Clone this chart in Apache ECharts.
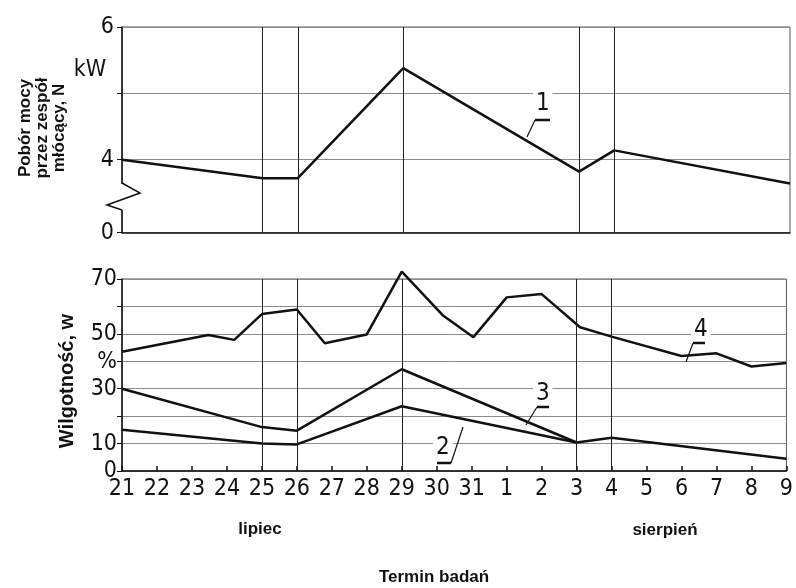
<!DOCTYPE html>
<html>
<head>
<meta charset="utf-8">
<script src="https://cdn.jsdelivr.net/npm/echarts@6.0.0/dist/echarts.min.js"></script>
<style>
  html, body { margin: 0; padding: 0; background: #fff; }
  #main { width: 796px; height: 588px; }
</style>
</head>
<body>
<div id="main"></div>
<script>
// dni badań: 21-31 lipca, 1-9 sierpnia (pozycja = indeks)
const dayLabels = ['21','22','23','24','25','26','27','28','29','30','31','1','2','3','4','5','6','7','8','9'];
const vLines = [4, 5, 8, 13, 14];

// 1 - pobór mocy, kW
const mocX = [0, 4, 5, 8, 13, 14, 19];
const moc  = [4.0, 3.72, 3.72, 5.38, 3.82, 4.14, 3.64];

// 2, 3, 4 - wilgotność, %
const w2X = [0, 4, 5, 8, 13, 14, 19];
const w2  = [15.0, 10.0, 9.7, 23.6, 10.4, 12.1, 4.5];
const w3X = [0, 4, 5, 8, 13];
const w3  = [30.0, 16.0, 14.7, 37.1, 10.4];
const w4X = [0, 2.47, 3.21, 4, 5, 5.8, 7, 8, 9.17, 10.05, 11, 12, 13.1, 14, 16, 17, 18, 19];
const w4  = [43.5, 49.6, 47.8, 57.2, 58.9, 46.6, 49.8, 72.7, 56.8, 48.8, 63.3, 64.5, 52.4, 49.0, 41.9, 42.9, 38.1, 39.4];

const mocTicks = [2.9, 4, 5, 6];
const mocLabels = [2.9, 4, 6];
const wLabels = [0, 10, 30, 50, 70];

const zip = (xs, ys) => xs.map((x, i) => [x, ys[i]]);
const numFont = "'DejaVu Sans Condensed', 'Liberation Sans Narrow', sans-serif";
const boldFont = "'Liberation Sans', Arial, sans-serif";

const lineStyle = { color: '#111', width: 2.5 };
const gridLine = { show: true, lineStyle: { color: '#8c8c8c', width: 1 } };
const vMark = {
  silent: true, symbol: 'none', label: { show: false },
  lineStyle: { color: '#222', width: 1, type: 'solid' },
  data: vLines.map(v => ({ xAxis: v }))
};

function callout(txt, tx, ty, bar, leader) {
  return [
    { type: 'text', left: tx, top: ty, z: 10,
      style: { text: txt, font: "24px " + numFont, fill: '#111', backgroundColor: '#fff', padding: [0, 3] } },
    { type: 'polyline', z: 10, shape: { points: bar }, style: { stroke: '#111', lineWidth: 2.5 } },
    { type: 'polyline', z: 10, shape: { points: leader }, style: { stroke: '#111', lineWidth: 1.2 } }
  ];
}

const chart = echarts.init(document.getElementById('main'));
chart.setOption({
  animation: false,
  backgroundColor: '#fff',
  grid: [
    { left: 122, right: 6, top: 27, height: 205.6, show: true, borderColor: '#555', borderWidth: 1 },
    { left: 122, right: 6, top: 279, height: 192, show: true, borderColor: '#555', borderWidth: 1 }
  ],
  xAxis: [
    { type: 'value', gridIndex: 0, min: 0, max: 19, interval: 1,
      axisLine: { lineStyle: { color: '#111', width: 1.5 } },
      axisTick: { show: false }, axisLabel: { show: false }, splitLine: { show: false } },
    { type: 'value', gridIndex: 1, min: 0, max: 19, interval: 1,
      axisLine: { lineStyle: { color: '#111', width: 1.5 } },
      axisTick: { inside: true, length: 5, lineStyle: { color: '#111', width: 1.5 } },
      axisLabel: { margin: 7, color: '#111', fontSize: 23, fontFamily: numFont,
        formatter: v => dayLabels[v] },
      splitLine: { show: false } }
  ],
  yAxis: [
    { type: 'value', gridIndex: 0, min: 2.9, max: 6,
      axisLine: { show: true, lineStyle: { color: '#111', width: 1.5 } },
      axisTick: { show: true, length: 5, customValues: mocTicks, lineStyle: { color: '#111' } },
      axisLabel: { color: '#111', fontSize: 23, fontFamily: numFont, margin: 8,
        customValues: mocLabels, formatter: v => (v < 3 ? '0' : String(v)) },
      splitLine: gridLine },
    { type: 'value', gridIndex: 1, min: 0, max: 70, interval: 10,
      axisLine: { show: true, lineStyle: { color: '#111', width: 1.5 } },
      axisTick: { show: true, length: 5, lineStyle: { color: '#111' } },
      axisLabel: { color: '#111', fontSize: 23, fontFamily: numFont, margin: 5,
        formatter: v => (wLabels.indexOf(v) >= 0 ? String(v) : '') },
      splitLine: gridLine }
  ],
  series: [
    { name: '1', type: 'line', xAxisIndex: 0, yAxisIndex: 0, data: zip(mocX, moc),
      symbol: 'none', clip: false, lineStyle: lineStyle, markLine: vMark },
    { name: '2', type: 'line', xAxisIndex: 1, yAxisIndex: 1, data: zip(w2X, w2),
      symbol: 'none', clip: false, lineStyle: lineStyle, markLine: vMark },
    { name: '3', type: 'line', xAxisIndex: 1, yAxisIndex: 1, data: zip(w3X, w3),
      symbol: 'none', clip: false, lineStyle: lineStyle },
    { name: '4', type: 'line', xAxisIndex: 1, yAxisIndex: 1, data: zip(w4X, w4),
      symbol: 'none', clip: false, lineStyle: lineStyle }
  ],
  graphic: [
    // tytuły osi
    { type: 'text', x: 42, y: 128, rotation: Math.PI / 2,
      style: { text: 'Pobór mocy\nprzez zespół\nmłócący, N', font: "bold 17px " + boldFont,
        fill: '#111', align: 'center', verticalAlign: 'middle', lineHeight: 17 } },
    { type: 'text', x: 67, y: 381, rotation: Math.PI / 2,
      style: { text: 'Wilgotność, w', font: "bold 20px " + boldFont,
        fill: '#111', align: 'center', verticalAlign: 'middle' } },
    { type: 'text', x: 90, y: 70,
      style: { text: 'kW', font: "23px " + numFont, fill: '#111', align: 'center', verticalAlign: 'middle' } },
    { type: 'text', x: 107, y: 362,
      style: { text: '%', font: "23px " + numFont, fill: '#111', align: 'center', verticalAlign: 'middle' } },
    { type: 'text', x: 260, y: 529,
      style: { text: 'lipiec', font: "bold 17px " + boldFont, fill: '#111', align: 'center', verticalAlign: 'middle' } },
    { type: 'text', x: 665, y: 530,
      style: { text: 'sierpień', font: "bold 17px " + boldFont, fill: '#111', align: 'center', verticalAlign: 'middle' } },
    { type: 'text', x: 434, y: 577,
      style: { text: 'Termin badań', font: "bold 17px " + boldFont, fill: '#111', align: 'center', verticalAlign: 'middle' } },
    // przerwa osi (zygzak)
    { type: 'rect', z: 9, shape: { x: 118, y: 184, width: 8, height: 26 }, style: { fill: '#fff' } },
    { type: 'polyline', z: 10, shape: { points: [[122, 183], [140, 193], [107, 205], [122, 210]] },
      style: { stroke: '#111', lineWidth: 1.5, fill: null } },
    // opisy krzywych
    ...callout('1', 533, 92, [[535, 120], [550, 120]], [[535, 120], [527, 137]]),
    ...callout('3', 533, 382, [[537, 407], [549, 407]], [[537, 407], [526, 425]]),
    ...callout('2', 433, 436, [[437, 463], [451, 463]], [[451, 463], [463, 427]]),
    ...callout('4', 691, 318, [[693, 343], [705, 343]], [[693, 343], [686, 362]])
  ]
});
</script>
</body>
</html>
